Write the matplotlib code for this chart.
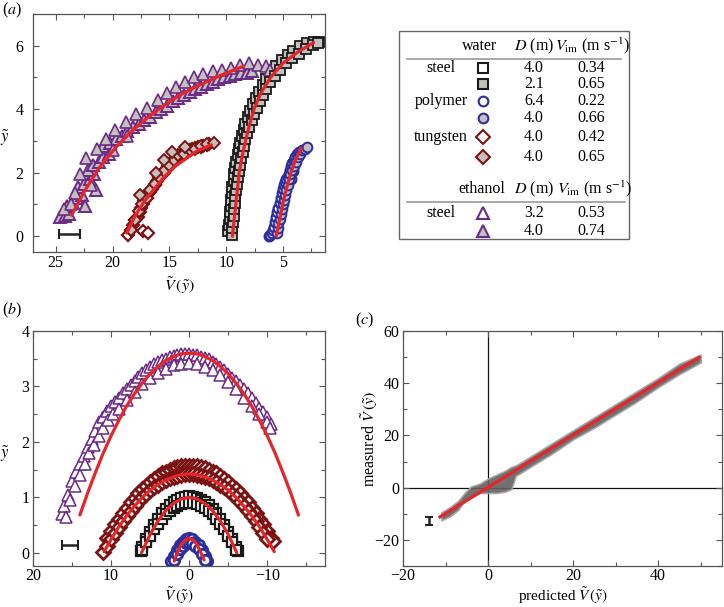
import matplotlib.pyplot as plt
from matplotlib.patches import Rectangle
from matplotlib.ticker import MultipleLocator

plt.rcParams['font.family'] = ['Liberation Serif', 'DejaVu Serif']
plt.rcParams['mathtext.fontset'] = 'stix'
plt.rcParams['font.size'] = 11

PURPLE = '#6b2a86'
DRED = '#7b1111'
BLUE = '#2b2e9c'
BLACK = '#1a1a1a'
GREY = '#c4c0bd'
RED = '#e4262b'

# ---- panel (a): trajectories ----
a_tri_open_x = [24.6, 24.2, 23.8, 24.0, 23.5, 23.1, 22.7, 23.0, 22.5, 22.0, 21.6, 22.2, 21.7, 21.2, 20.8,
                20.3, 20.8, 20.2, 19.7, 19.2, 18.7, 18.2, 17.7, 17.2, 16.7, 16.2, 15.7, 15.2, 14.7, 14.2,
                13.7, 13.2, 12.7, 12.2, 11.7, 11.2, 10.7, 10.2, 9.7, 9.2, 8.7, 8.2, 7.7, 22.4, 21.5]
a_tri_open_y = [0.6, 0.65, 0.7, 0.95, 1.05, 1.2, 1.3, 1.55, 1.65, 1.8, 1.95, 2.1, 2.25, 2.35, 2.5,
                2.6, 2.85, 2.95, 3.05, 3.15, 3.3, 3.45, 3.55, 3.65, 3.75, 3.9, 4.0, 4.1, 4.25, 4.35,
                4.45, 4.55, 4.65, 4.7, 4.8, 4.85, 4.95, 5.0, 5.05, 5.1, 5.15, 5.15, 5.2, 0.95, 1.45]
a_tri_fill_x = [24.3, 23.3, 22.9, 22.3, 21.4, 20.6, 19.8, 18.8, 17.9, 17.0, 16.0, 15.2, 14.4, 13.6, 12.8,
                12.0, 11.2, 10.4, 9.6, 8.8, 8.0, 7.2, 6.5, 6.1, 23.7, 21.9, 20.0, 18.7]
a_tri_fill_y = [0.85, 1.35, 1.95, 2.45, 2.75, 3.05, 3.35, 3.6, 3.85, 4.05, 4.3, 4.5, 4.7, 4.85, 5.0,
                5.1, 5.2, 5.25, 5.3, 5.4, 5.45, 5.4, 5.35, 5.25, 1.0, 1.6, 2.7, 3.15]
a_tri_fit_x = [23.6, 22.5, 21.1, 19.7, 18.2, 16.7, 15.2, 13.8, 12.3, 10.4, 8.5]
a_tri_fit_y = [0.66, 1.4, 2.19, 2.8, 3.35, 3.8, 4.19, 4.5, 4.77, 5.08, 5.35]

a_dia_open_x = [18.6, 18.4, 18.2, 18.0, 17.8, 17.6, 17.5, 17.3, 17.2, 17.0, 16.9, 16.7, 16.5, 16.3, 16.1,
                15.9, 15.7, 15.5, 15.3, 15.1, 14.9, 14.6, 14.4, 14.2, 14.0, 13.7, 13.5, 13.2, 13.0,
                12.7, 12.5, 12.2, 12.0, 11.7, 11.5, 17.3, 16.9]
a_dia_open_y = [0.05, 0.2, 0.35, 0.5, 0.6, 0.75, 0.9, 1.0, 1.1, 1.2, 1.35, 1.4, 1.5, 1.6, 1.75,
                1.85, 1.95, 2.0, 2.1, 2.2, 2.3, 2.35, 2.45, 2.5, 2.55, 2.6, 2.65, 2.7, 2.75,
                2.78, 2.8, 2.82, 2.85, 2.88, 2.9, 0.15, 0.1]
a_dia_fill_x = [18.4, 18.0, 17.7, 17.4, 17.0, 16.7, 16.3, 15.9, 15.5, 15.0, 14.6, 14.2, 13.7, 13.2,
                12.7, 12.2, 11.7, 11.1, 15.5, 14.8, 13.6, 16.2, 17.6]
a_dia_fill_y = [0.2, 0.5, 0.8, 1.0, 1.2, 1.45, 1.65, 1.85, 2.05, 2.25, 2.4, 2.55, 2.6, 2.7,
                2.75, 2.85, 2.9, 2.95, 2.4, 2.65, 2.8, 2.0, 1.3]
a_dia_fit_x = [18.75, 18.0, 17.2, 16.3, 15.5, 14.5, 13.5, 12.5, 11.3]
a_dia_fit_y = [0.1, 0.65, 1.1, 1.5, 1.85, 2.2, 2.45, 2.7, 2.88]

a_sq_open_x = [9.8, 9.75, 9.7, 9.65, 9.6, 9.55, 9.5, 9.45, 9.35, 9.3, 9.2, 9.1, 9.0, 8.9, 8.75, 8.6,
               8.45, 8.3, 8.1, 7.9, 7.65, 7.4, 7.1, 6.8, 6.45, 6.05, 5.6, 5.1, 4.6, 4.1, 3.5, 2.9,
               2.3, 1.8]
a_sq_open_y = [0.15, 0.35, 0.55, 0.75, 0.95, 1.15, 1.35, 1.55, 1.75, 1.95, 2.15, 2.35, 2.55, 2.75, 2.95,
               3.15, 3.35, 3.55, 3.75, 3.95, 4.15, 4.35, 4.55, 4.75, 4.95, 5.15, 5.35, 5.55, 5.7,
               5.85, 5.98, 6.08, 6.12, 6.12]
a_sq_fill_x = [9.5, 9.45, 9.4, 9.35, 9.3, 9.25, 9.2, 9.15, 9.05, 9.0, 8.9, 8.8, 8.7, 8.55, 8.45, 8.3,
               8.15, 7.95, 7.75, 7.55, 7.3, 7.05, 6.75, 6.45, 6.1, 5.7, 5.25, 4.75, 4.2, 3.6, 3.0,
               2.4, 1.9]
a_sq_fill_y = [0.05, 0.25, 0.45, 0.65, 0.85, 1.05, 1.25, 1.45, 1.65, 1.85, 2.05, 2.25, 2.45, 2.65, 2.85,
               3.05, 3.25, 3.45, 3.65, 3.85, 4.05, 4.25, 4.45, 4.65, 4.85, 5.05, 5.25, 5.45, 5.6,
               5.75, 5.9, 6.02, 6.1]
a_sq_fit_x = [9.45, 9.3, 9.15, 9.0, 8.85, 8.6, 8.3, 7.95, 7.55, 6.95, 6.1, 5.0, 3.7, 2.3]
a_sq_fit_y = [0.0, 0.5, 1.0, 1.5, 2.0, 2.5, 3.0, 3.5, 4.0, 4.5, 5.0, 5.45, 5.8, 6.1]

a_circ_open_x = [6.25, 6.1, 6.0, 5.9, 5.8, 5.7, 5.6, 5.5, 5.4, 5.3, 5.2, 5.1, 5.0, 4.9, 4.8, 4.7, 4.6,
                 4.5, 4.4, 4.3, 4.2, 4.05, 3.9, 3.75, 3.6, 4.3, 4.1]
a_circ_open_y = [0.0, 0.05, 0.1, 0.2, 0.3, 0.45, 0.6, 0.75, 0.9, 1.05, 1.2, 1.35, 1.5, 1.6, 1.7, 1.8,
                 1.85, 1.95, 2.1, 2.2, 2.3, 2.4, 2.5, 2.58, 2.65, 1.8, 2.05]
a_circ_fill_x = [5.5, 5.45, 5.4, 5.3, 5.2, 5.1, 5.0, 4.9, 4.85, 4.7, 4.6, 4.5, 4.4, 4.2, 4.0, 3.85, 3.7,
                 3.5, 3.3, 3.1, 2.9]
a_circ_fill_y = [0.1, 0.25, 0.4, 0.55, 0.7, 0.85, 1.0, 1.15, 1.3, 1.45, 1.6, 1.8, 1.95, 2.1, 2.2, 2.35,
                 2.5, 2.6, 2.7, 2.75, 2.8]
a_circ_fit_x = [5.6, 5.3, 5.0, 4.65, 4.3, 3.9, 3.4]
a_circ_fit_y = [0.0, 0.5, 1.05, 1.56, 2.0, 2.4, 2.77]

# ---- panel (b): trajectories in the moving frame ----
b_tri1_x = [16.3, 16.0, 15.5, 15.0, 14.5, 14.0, 13.5, 13.0, 12.5, 12.0, 11.5, 11.0, 10.5, 10.0, 9.5,
            9.0, 8.5, 8.0, 7.5, 7.0, 6.5, 6.0, 5.5, 5.0, 4.5, 4.0, 3.5, 3.0, 2.5, 2.0, 1.5, 1.0, 0.5,
            0.0, -0.5, -1.0, -1.5, -2.0, -2.5, -3.0, -3.5, -4.0, -4.5, -5.0, -5.5, -6.0, -6.5, -7.0,
            -7.5, -8.0, -8.5, -9.0, -9.5, -10.0, -10.5]
b_tri1_y = [0.7, 0.85, 1.05, 1.3, 1.45, 1.6, 1.75, 1.9, 2.05, 2.2, 2.35, 2.45, 2.55, 2.65, 2.72,
            2.8, 2.88, 2.95, 3.03, 3.1, 3.18, 3.25, 3.3, 3.35, 3.4, 3.45, 3.48, 3.5, 3.53, 3.55, 3.57,
            3.58, 3.58, 3.58, 3.57, 3.56, 3.54, 3.52, 3.49, 3.45, 3.4, 3.35, 3.29, 3.22, 3.16, 3.1,
            3.03, 2.95, 2.88, 2.8, 2.71, 2.62, 2.54, 2.45, 2.32]
b_tri2_x = [15.8, 15.2, 14.6, 14.0, 13.4, 12.8, 12.2, 11.6, 11.0, 10.4, 9.8, 9.0, 8.0, 7.0, 6.0, 5.0,
            4.0, 3.0, 2.0, 1.0, 0.0, -1.0, -2.0, -3.0, -4.0, -5.0, -6.0, -7.0, -8.0, -9.0, -10.0, -10.3]
b_tri2_y = [0.65, 0.95, 1.2, 1.4, 1.6, 1.8, 1.95, 2.1, 2.25, 2.4, 2.5, 2.6, 2.75, 2.9, 3.05, 3.15,
            3.25, 3.32, 3.38, 3.4, 3.42, 3.4, 3.36, 3.3, 3.2, 3.08, 2.95, 2.8, 2.65, 2.5, 2.35, 2.25]
b_tri_fit_x = [14, 13, 12, 11, 10, 9, 8, 7, 6, 5, 4, 3, 2, 1, 0,
               -1, -2, -3, -4, -5, -6, -7, -8, -9, -10, -11, -12, -13, -14]
b_tri_fit_y = [0.68, 1.08, 1.45, 1.80, 2.11, 2.39, 2.65, 2.87, 3.06, 3.23, 3.36, 3.47, 3.54, 3.59, 3.6,
               3.59, 3.54, 3.47, 3.36, 3.23, 3.06, 2.87, 2.65, 2.39, 2.11, 1.80, 1.45, 1.08, 0.68]

b_dia1_x = [10.5, 10.0, 9.5, 9.0, 8.5, 8.0, 7.5, 7.0, 6.5, 6.0, 5.5, 5.0, 4.5, 4.0, 3.5, 3.0, 2.5, 2.0,
            1.5, 1.0, 0.5, 0.0, -0.5, -1.0, -1.5, -2.0, -2.5, -3.0, -3.5, -4.0, -4.5, -5.0, -5.5, -6.0,
            -6.5, -7.0, -7.5, -8.0, -8.5, -9.0, -9.5, -10.0, -10.5, -10.8]
b_dia1_y = [0.27, 0.39, 0.51, 0.61, 0.72, 0.81, 0.91, 0.99, 1.07, 1.15, 1.21, 1.28, 1.33, 1.38, 1.43, 1.46,
            1.50, 1.52, 1.54, 1.56, 1.57, 1.57, 1.57, 1.56, 1.54, 1.52, 1.50, 1.46, 1.43, 1.38, 1.33,
            1.28, 1.21, 1.15, 1.07, 0.99, 0.91, 0.81, 0.72, 0.61, 0.51, 0.39, 0.27, 0.22]
b_dia2_x = [11.0, 10.5, 10.0, 9.5, 9.0, 8.5, 8.0, 7.5, 7.0, 6.5, 6.0, 5.5, 5.0, 4.5, 4.0, 3.5, 3.0, 2.5,
            2.0, 1.5, 1.0, 0.5, 0.0, -0.5, -1.0, -1.5, -2.0, -2.5, -3.0, -3.5, -4.0, -4.5, -5.0, -5.5,
            -6.0, -6.5, -7.0, -7.5, -8.0, -8.5, -9.0, -9.5, -10.0]
b_dia2_y = [0.02, 0.12, 0.24, 0.36, 0.46, 0.57, 0.66, 0.76, 0.84, 0.92, 1.0, 1.06, 1.13, 1.18, 1.23, 1.28,
            1.31, 1.35, 1.37, 1.39, 1.41, 1.42, 1.42, 1.42, 1.41, 1.39, 1.37, 1.35, 1.31, 1.28, 1.23,
            1.18, 1.13, 1.06, 1.0, 0.92, 0.84, 0.76, 0.66, 0.57, 0.46, 0.36, 0.24]
b_dia_fit_x = [10.9, 10, 9, 8, 7, 6, 5, 4, 3, 2, 1, 0, -1, -2, -3, -4, -5, -6, -7, -8, -9, -10, -10.9]
b_dia_fit_y = [0.02, 0.24, 0.47, 0.67, 0.84, 1.00, 1.13, 1.23, 1.31, 1.37, 1.41, 1.42,
               1.41, 1.37, 1.31, 1.23, 1.13, 1.00, 0.84, 0.67, 0.47, 0.24, 0.02]

b_sq1_x = [6.2, 6.0, 5.5, 5.0, 4.5, 4.0, 3.5, 3.0, 2.5, 2.0, 1.5, 1.0, 0.5, 0.0, -0.5, -1.0, -1.5, -2.0,
           -2.5, -3.0, -3.5, -4.0, -4.5, -5.0, -5.5, -6.0, -6.2]
b_sq1_y = [0.04, 0.10, 0.25, 0.38, 0.50, 0.61, 0.71, 0.79, 0.86, 0.92, 0.96, 0.99, 1.01, 1.02, 1.01,
           0.99, 0.96, 0.92, 0.86, 0.79, 0.71, 0.61, 0.50, 0.38, 0.25, 0.10, 0.04]
b_sq2_x = [6.0, 5.5, 5.0, 4.5, 4.0, 3.5, 3.0, 2.5, 2.0, 1.5, 1.0, 0.5, 0.0, -0.5, -1.0, -1.5, -2.0, -2.5,
           -3.0, -3.5, -4.0, -4.5, -5.0, -5.5, -6.0]
b_sq2_y = [0.05, 0.19, 0.31, 0.42, 0.52, 0.61, 0.69, 0.75, 0.81, 0.85, 0.88, 0.89, 0.90, 0.89, 0.88,
           0.85, 0.81, 0.75, 0.69, 0.61, 0.52, 0.42, 0.31, 0.19, 0.05]
b_sq_fit_x = [6.1, 6, 5, 4, 3, 2, 1, 0, -1, -2, -3, -4, -5, -6, -6.1]
b_sq_fit_y = [0.0, 0.03, 0.33, 0.57, 0.76, 0.89, 0.97, 1.0, 0.97, 0.89, 0.76, 0.57, 0.33, 0.03, 0.0]

b_circ1_x = [2.3, 2.0, 1.6, 1.2, 0.8, 0.4, 0.0, -0.4, -0.8, -1.2, -1.6, -2.0, -2.3]
b_circ1_y = [-0.15, -0.06, 0.05, 0.14, 0.2, 0.25, 0.26, 0.25, 0.2, 0.14, 0.05, -0.06, -0.15]
b_circ2_x = [2.0, 1.6, 1.2, 0.8, 0.4, 0.0, -0.4, -0.8, -1.2, -1.6, -2.0]
b_circ2_y = [-0.14, -0.03, 0.06, 0.12, 0.17, 0.18, 0.17, 0.12, 0.06, -0.03, -0.14]
b_circ_fit_x = [1.9, 1.5, 1.0, 0.5, 0.0, -0.5, -1.0, -1.5, -1.9]
b_circ_fit_y = [-0.15, 0.0, 0.15, 0.23, 0.26, 0.23, 0.15, 0.0, -0.13]

# ---- panel (c): measured vs predicted ----
c_pred = [-11, -9, -7, -5.5, -4, -2, 0, 2, 4, 5.5, 6.5, 8, 10, 15, 20, 25, 30, 35, 40, 45, 50]
c_upper = [-9.5, -7.5, -5, -2, 0.5, 1.5, 3.5, 5, 6.5, 8, 8.5, 10, 12, 17, 22, 27, 32, 37, 42, 47.5, 51]
c_lower = [-12.5, -11, -8.5, -5, -3.5, -2, -2, -2, -1.5, -0.5, 4.5, 6, 8, 13, 18.5, 23, 28, 33, 38.5, 43.5, 48]
c_fit_x = [-11.3, 49.6]
c_fit_y = [-11.2, 49.9]

# ---- legend table ----
water_mat = ['steel', '', 'polymer', '', 'tungsten', '']
water_D = ['4.0', '2.1', '6.4', '4.0', '4.0', '4.0']
water_V = ['0.34', '0.65', '0.22', '0.66', '0.42', '0.65']
eth_mat = ['steel', '']
eth_D = ['3.2', '4.0']
eth_V = ['0.53', '0.74']

fig = plt.figure(figsize=(7.24, 6.07), dpi=100)
ax_a = fig.add_axes([0.0456, 0.5848, 0.4033, 0.3921])
ax_b = fig.add_axes([0.0456, 0.0675, 0.4033, 0.3871])
ax_c = fig.add_axes([0.5566, 0.0675, 0.4406, 0.3871])


def style(ax):
    ax.tick_params(which='both', direction='in', top=True, right=True, color='#555555',
                   width=0.8, labelsize=11.5, pad=2.5)
    ax.tick_params(which='major', length=4.5)
    ax.tick_params(which='minor', length=3)
    for s in ax.spines.values():
        s.set_color('#555555')
        s.set_linewidth(0.9)


def pts(ax, x, y, m, ms, fc, ec, mew=1.2, z=2):
    ax.plot(x, y, ls='none', marker=m, ms=ms, mfc=fc, mec=ec, mew=mew, zorder=z)


# (a)
pts(ax_a, a_tri_open_x, a_tri_open_y, '^', 8.5, GREY, PURPLE, mew=1.4)
pts(ax_a, a_tri_fill_x, a_tri_fill_y, '^', 8.5, GREY, PURPLE, z=3)
pts(ax_a, a_dia_open_x, a_dia_open_y, 'D', 6.5, 'white', DRED, mew=1.6)
pts(ax_a, a_dia_fill_x, a_dia_fill_y, 'D', 6.5, GREY, DRED, mew=1.4, z=3)
pts(ax_a, a_sq_open_x, a_sq_open_y, 's', 7, GREY, BLACK, mew=1.3)
pts(ax_a, a_sq_fill_x, a_sq_fill_y, 's', 7, GREY, BLACK, mew=1.3, z=3)
pts(ax_a, a_circ_open_x, a_circ_open_y, 'o', 7, 'white', BLUE, mew=1.6)
pts(ax_a, a_circ_fill_x, a_circ_fill_y, 'o', 7, GREY, BLUE, mew=1.4, z=3)
for fx, fy in [(a_tri_fit_x, a_tri_fit_y), (a_dia_fit_x, a_dia_fit_y),
               (a_sq_fit_x, a_sq_fit_y), (a_circ_fit_x, a_circ_fit_y)]:
    ax_a.plot(fx, fy, color=RED, lw=2.3, zorder=5, solid_capstyle='round')
ax_a.errorbar([23.8], [0.07], xerr=[0.9], fmt='none', ecolor='#222222', elinewidth=1.8, capsize=3.5, capthick=1.5)
ax_a.set_xlim(27, 1.3)
ax_a.set_ylim(-0.5, 7)
ax_a.xaxis.set_major_locator(MultipleLocator(5))
ax_a.xaxis.set_minor_locator(MultipleLocator(2.5))
ax_a.yaxis.set_major_locator(MultipleLocator(2))
ax_a.yaxis.set_minor_locator(MultipleLocator(1))
ax_a.set_xlabel(r'$\tilde{V}\,(\tilde{y})$', fontsize=11.5, va='center')
ax_a.xaxis.set_label_coords(0.5, -0.14)
ax_a.set_ylabel(r'$\tilde{y}$', fontsize=12, rotation=0, va='center', ha='center')
ax_a.yaxis.set_label_coords(-0.096, 0.48)
style(ax_a)
ax_a.tick_params(axis='y', pad=7)

# (b)
pts(ax_b, b_tri1_x, b_tri1_y, '^', 9, 'white', PURPLE, mew=1.1)
pts(ax_b, b_tri2_x, b_tri2_y, '^', 9, 'white', PURPLE, mew=1.1)
pts(ax_b, b_dia1_x, b_dia1_y, 'D', 7, 'white', DRED, mew=2.0)
pts(ax_b, b_dia2_x, b_dia2_y, 'D', 7, 'white', DRED, mew=2.0)
pts(ax_b, b_sq1_x, b_sq1_y, 's', 7, 'white', BLACK, mew=1.6)
pts(ax_b, b_sq2_x, b_sq2_y, 's', 7, 'white', BLACK, mew=1.6)
pts(ax_b, b_circ1_x, b_circ1_y, 'o', 7.5, 'white', BLUE, mew=2.0)
pts(ax_b, b_circ2_x, b_circ2_y, 'o', 7.5, 'white', BLUE, mew=2.0)
for fx, fy in [(b_tri_fit_x, b_tri_fit_y), (b_dia_fit_x, b_dia_fit_y),
               (b_sq_fit_x, b_sq_fit_y), (b_circ_fit_x, b_circ_fit_y)]:
    ax_b.plot(fx, fy, color=RED, lw=2.3, zorder=5, solid_capstyle='round')
ax_b.errorbar([15.3], [0.14], xerr=[1.0], fmt='none', ecolor='#222222', elinewidth=1.8, capsize=3.5, capthick=1.5)
ax_b.set_xlim(20, -17.4)
ax_b.set_ylim(-0.24, 4)
ax_b.xaxis.set_major_locator(MultipleLocator(10))
ax_b.xaxis.set_minor_locator(MultipleLocator(5))
ax_b.yaxis.set_major_locator(MultipleLocator(1))
ax_b.yaxis.set_minor_locator(MultipleLocator(0.5))
ax_b.set_xlabel(r'$\tilde{V}\,(\tilde{y})$', fontsize=11, va='bottom')
ax_b.xaxis.set_label_coords(0.5, -0.17)
ax_b.set_ylabel(r'$\tilde{y}$', fontsize=12, rotation=0, va='center', ha='center')
ax_b.yaxis.set_label_coords(-0.096, 0.477)
style(ax_b)
ax_b.tick_params(axis='x', pad=1.5)

# (c)
ax_c.axhline(0, color='#111111', lw=0.9, zorder=1)
ax_c.axvline(0, color='#111111', lw=0.9, zorder=1)
ax_c.fill_between(c_pred, c_lower, c_upper, facecolor='#65615f', edgecolor='#a8a5a3', lw=1.2, alpha=0.9, zorder=2)
ax_c.plot(c_fit_x, c_fit_y, color=RED, lw=2.3, zorder=5)
ax_c.errorbar([-13.9], [-12.8], yerr=[1.6], fmt='none', ecolor='#222222', elinewidth=1.8, capsize=3, capthick=1.5)
ax_c.set_xlim(-20, 55)
ax_c.set_ylim(-30, 60)
ax_c.xaxis.set_major_locator(MultipleLocator(20))
ax_c.xaxis.set_minor_locator(MultipleLocator(10))
ax_c.yaxis.set_major_locator(MultipleLocator(20))
ax_c.yaxis.set_minor_locator(MultipleLocator(10))
ax_c.set_xlabel(r'predicted $\tilde{V}\,(\tilde{y})$', fontsize=11, va='bottom')
ax_c.xaxis.set_label_coords(0.5, -0.17)
ax_c.set_ylabel(r'measured $\tilde{V}\,(\tilde{y})$', fontsize=11.5, va='center')
ax_c.yaxis.set_label_coords(-0.105, 0.54)
style(ax_c)
ax_c.tick_params(axis='x', pad=1.5)

# panel letters
fig.text(2 / 724, 1 - 10 / 607, '(' + r'$a$' + ')', fontsize=11.5, va='center', ha='left')
fig.text(2 / 724, 1 - 310 / 607, '(' + r'$b$' + ')', fontsize=11.5, va='center', ha='left')
fig.text(355 / 724, 1 - 320 / 607, '(' + r'$c$' + ')', fontsize=11.5, va='center', ha='left')

# legend table, drawn in pixel coordinates
tab = fig.add_axes([0, 0, 1, 1], facecolor='none')
tab.set_xlim(0, 724)
tab.set_ylim(607, 0)
tab.set_axis_off()
tab.add_patch(Rectangle((399, 31), 230, 208, fill=False, ec='#666666', lw=1.0))
tab.plot([407, 621], [59, 59], color='#999999', lw=1.2)
tab.plot([407, 625], [202, 202], color='#999999', lw=1.2)

fs = 11.5
hdr_D = r'$D$ (m)'
hdr_V = r'$V_{\mathrm{im}}$ (m s$^{-1}$)'
tab.text(497, 46, 'water', fontsize=fs, ha='right', va='center')
tab.text(534, 46, hdr_D, fontsize=fs, ha='center', va='center')
tab.text(593, 46, hdr_V, fontsize=fs, ha='center', va='center')
tab.text(482, 189, 'ethanol', fontsize=fs, ha='center', va='center')
tab.text(534, 189, hdr_D, fontsize=fs, ha='center', va='center')
tab.text(595, 189, hdr_V, fontsize=fs, ha='center', va='center')

water_rows = [68, 84, 101, 118, 137, 157]
water_mk = [('s', 'white', BLACK, 6.5), ('s', GREY, BLACK, 6.5), ('o', 'white', BLUE, 7),
            ('o', GREY, BLUE, 7), ('D', 'white', DRED, 7), ('D', GREY, DRED, 7)]
for ry, mat, d, v, (m, fc, ec, ms) in zip(water_rows, water_mat, water_D, water_V, water_mk):
    tab.text(441, ry, mat, fontsize=fs, ha='center', va='center')
    tab.plot([483], [ry], marker=m, ms=ms, mfc=fc, mec=ec, mew=1.5)
    tab.text(534, ry, d, fontsize=fs, ha='center', va='center')
    tab.text(591, ry, v, fontsize=fs, ha='center', va='center')

eth_rows = [213, 231]
eth_mk = [('^', 'white', PURPLE, 9), ('^', GREY, PURPLE, 9)]
for ry, mat, d, v, (m, fc, ec, ms) in zip(eth_rows, eth_mat, eth_D, eth_V, eth_mk):
    tab.text(441, ry, mat, fontsize=fs, ha='center', va='center')
    tab.plot([483], [ry], marker=m, ms=ms, mfc=fc, mec=ec, mew=1.5)
    tab.text(534, ry, d, fontsize=fs, ha='center', va='center')
    tab.text(591, ry, v, fontsize=fs, ha='center', va='center')

fig.savefig('out.png', dpi=100)
